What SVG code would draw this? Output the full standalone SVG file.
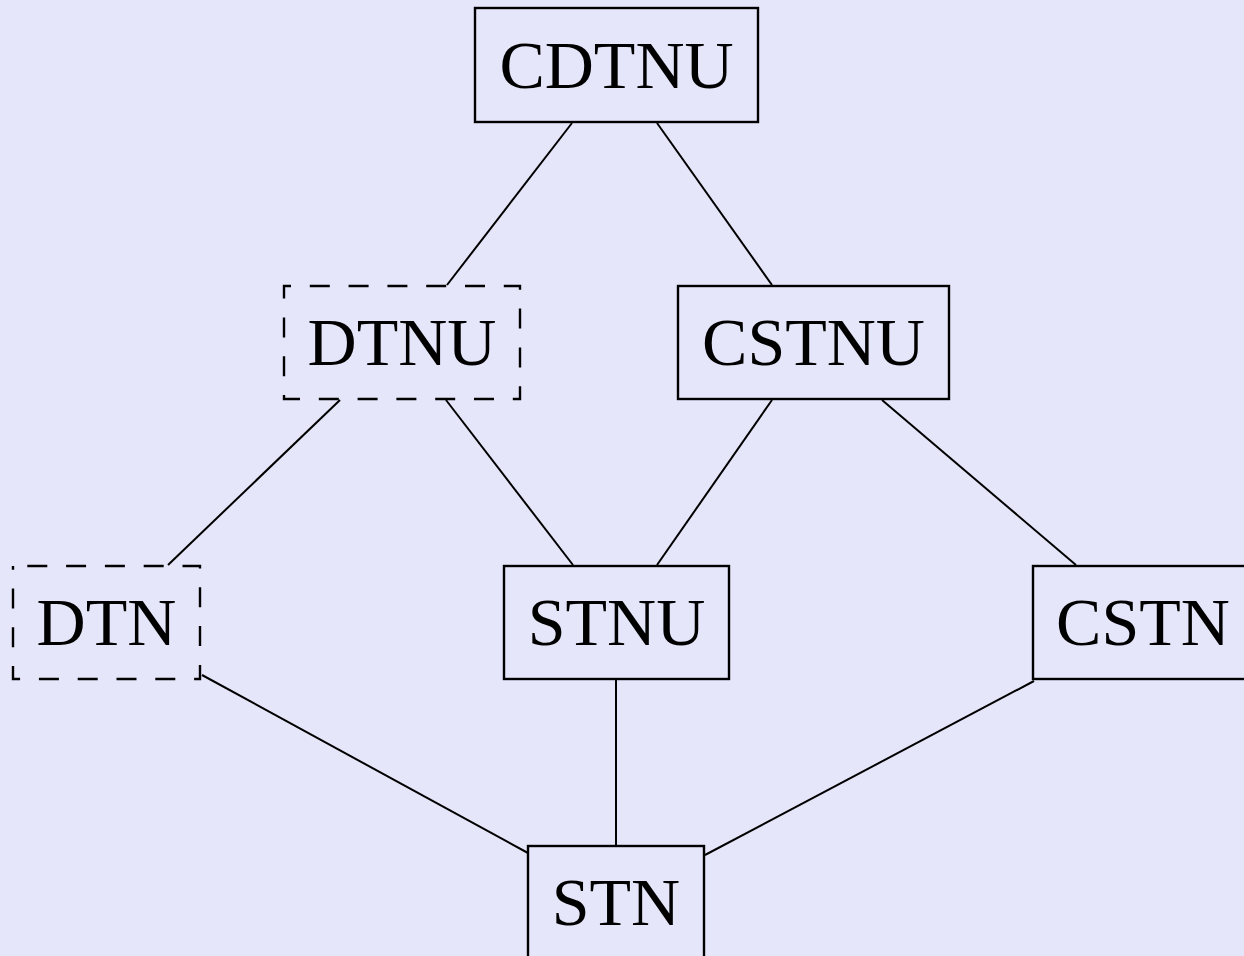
<svg xmlns="http://www.w3.org/2000/svg" width="1244" height="956" viewBox="0 0 1244 956">
<style>
.box{fill:none;stroke:#000;stroke-width:2.4}
.dash{fill:none;stroke:#000;stroke-width:2.4;stroke-dasharray:20 18.8}
.lbl{font-family:"Liberation Serif","Times New Roman",serif;font-size:68px;fill:#000;text-anchor:middle}
.edge{stroke:#000;stroke-width:2;fill:none}
</style>
<rect x="0" y="0" width="1244" height="956" fill="#E6E6FA"/>
<g id="connectors">
<line class="edge" x1="572" y1="123" x2="447" y2="285"/>
<line class="edge" x1="657" y1="123" x2="772" y2="285"/>
<line class="edge" x1="340" y1="400" x2="168" y2="565"/>
<line class="edge" x1="446" y1="400" x2="573" y2="565"/>
<line class="edge" x1="772" y1="400" x2="657" y2="565"/>
<line class="edge" x1="882" y1="400" x2="1076" y2="565"/>
<line class="edge" x1="202" y1="675" x2="528" y2="853"/>
<line class="edge" x1="616" y1="680" x2="616" y2="845"/>
<line class="edge" x1="1034" y1="681" x2="705" y2="855"/>
</g>
<g id="CDTNU">
<rect class="box" x="475" y="8" width="283" height="114"/>
<text class="lbl" x="616.5" y="87.5">CDTNU</text>
</g>
<g id="DTNU">
<rect class="dash" x="284" y="286" width="236" height="113" stroke-dashoffset="13"/>
<text class="lbl" x="402" y="365">DTNU</text>
</g>
<g id="CSTNU">
<rect class="box" x="678" y="286" width="271" height="113"/>
<text class="lbl" x="813.5" y="365">CSTNU</text>
</g>
<g id="DTN">
<rect class="dash" x="13" y="566" width="187" height="113" stroke-dashoffset="24.5"/>
<text class="lbl" x="106.5" y="645">DTN</text>
</g>
<g id="STNU">
<rect class="box" x="504" y="566" width="225" height="113"/>
<text class="lbl" x="616.5" y="645">STNU</text>
</g>
<g id="CSTN">
<rect class="box" x="1033" y="566" width="220" height="113"/>
<text class="lbl" x="1143" y="645">CSTN</text>
</g>
<g id="STN">
<rect class="box" x="528" y="846" width="176" height="113"/>
<text class="lbl" x="616" y="925">STN</text>
</g>
</svg>
